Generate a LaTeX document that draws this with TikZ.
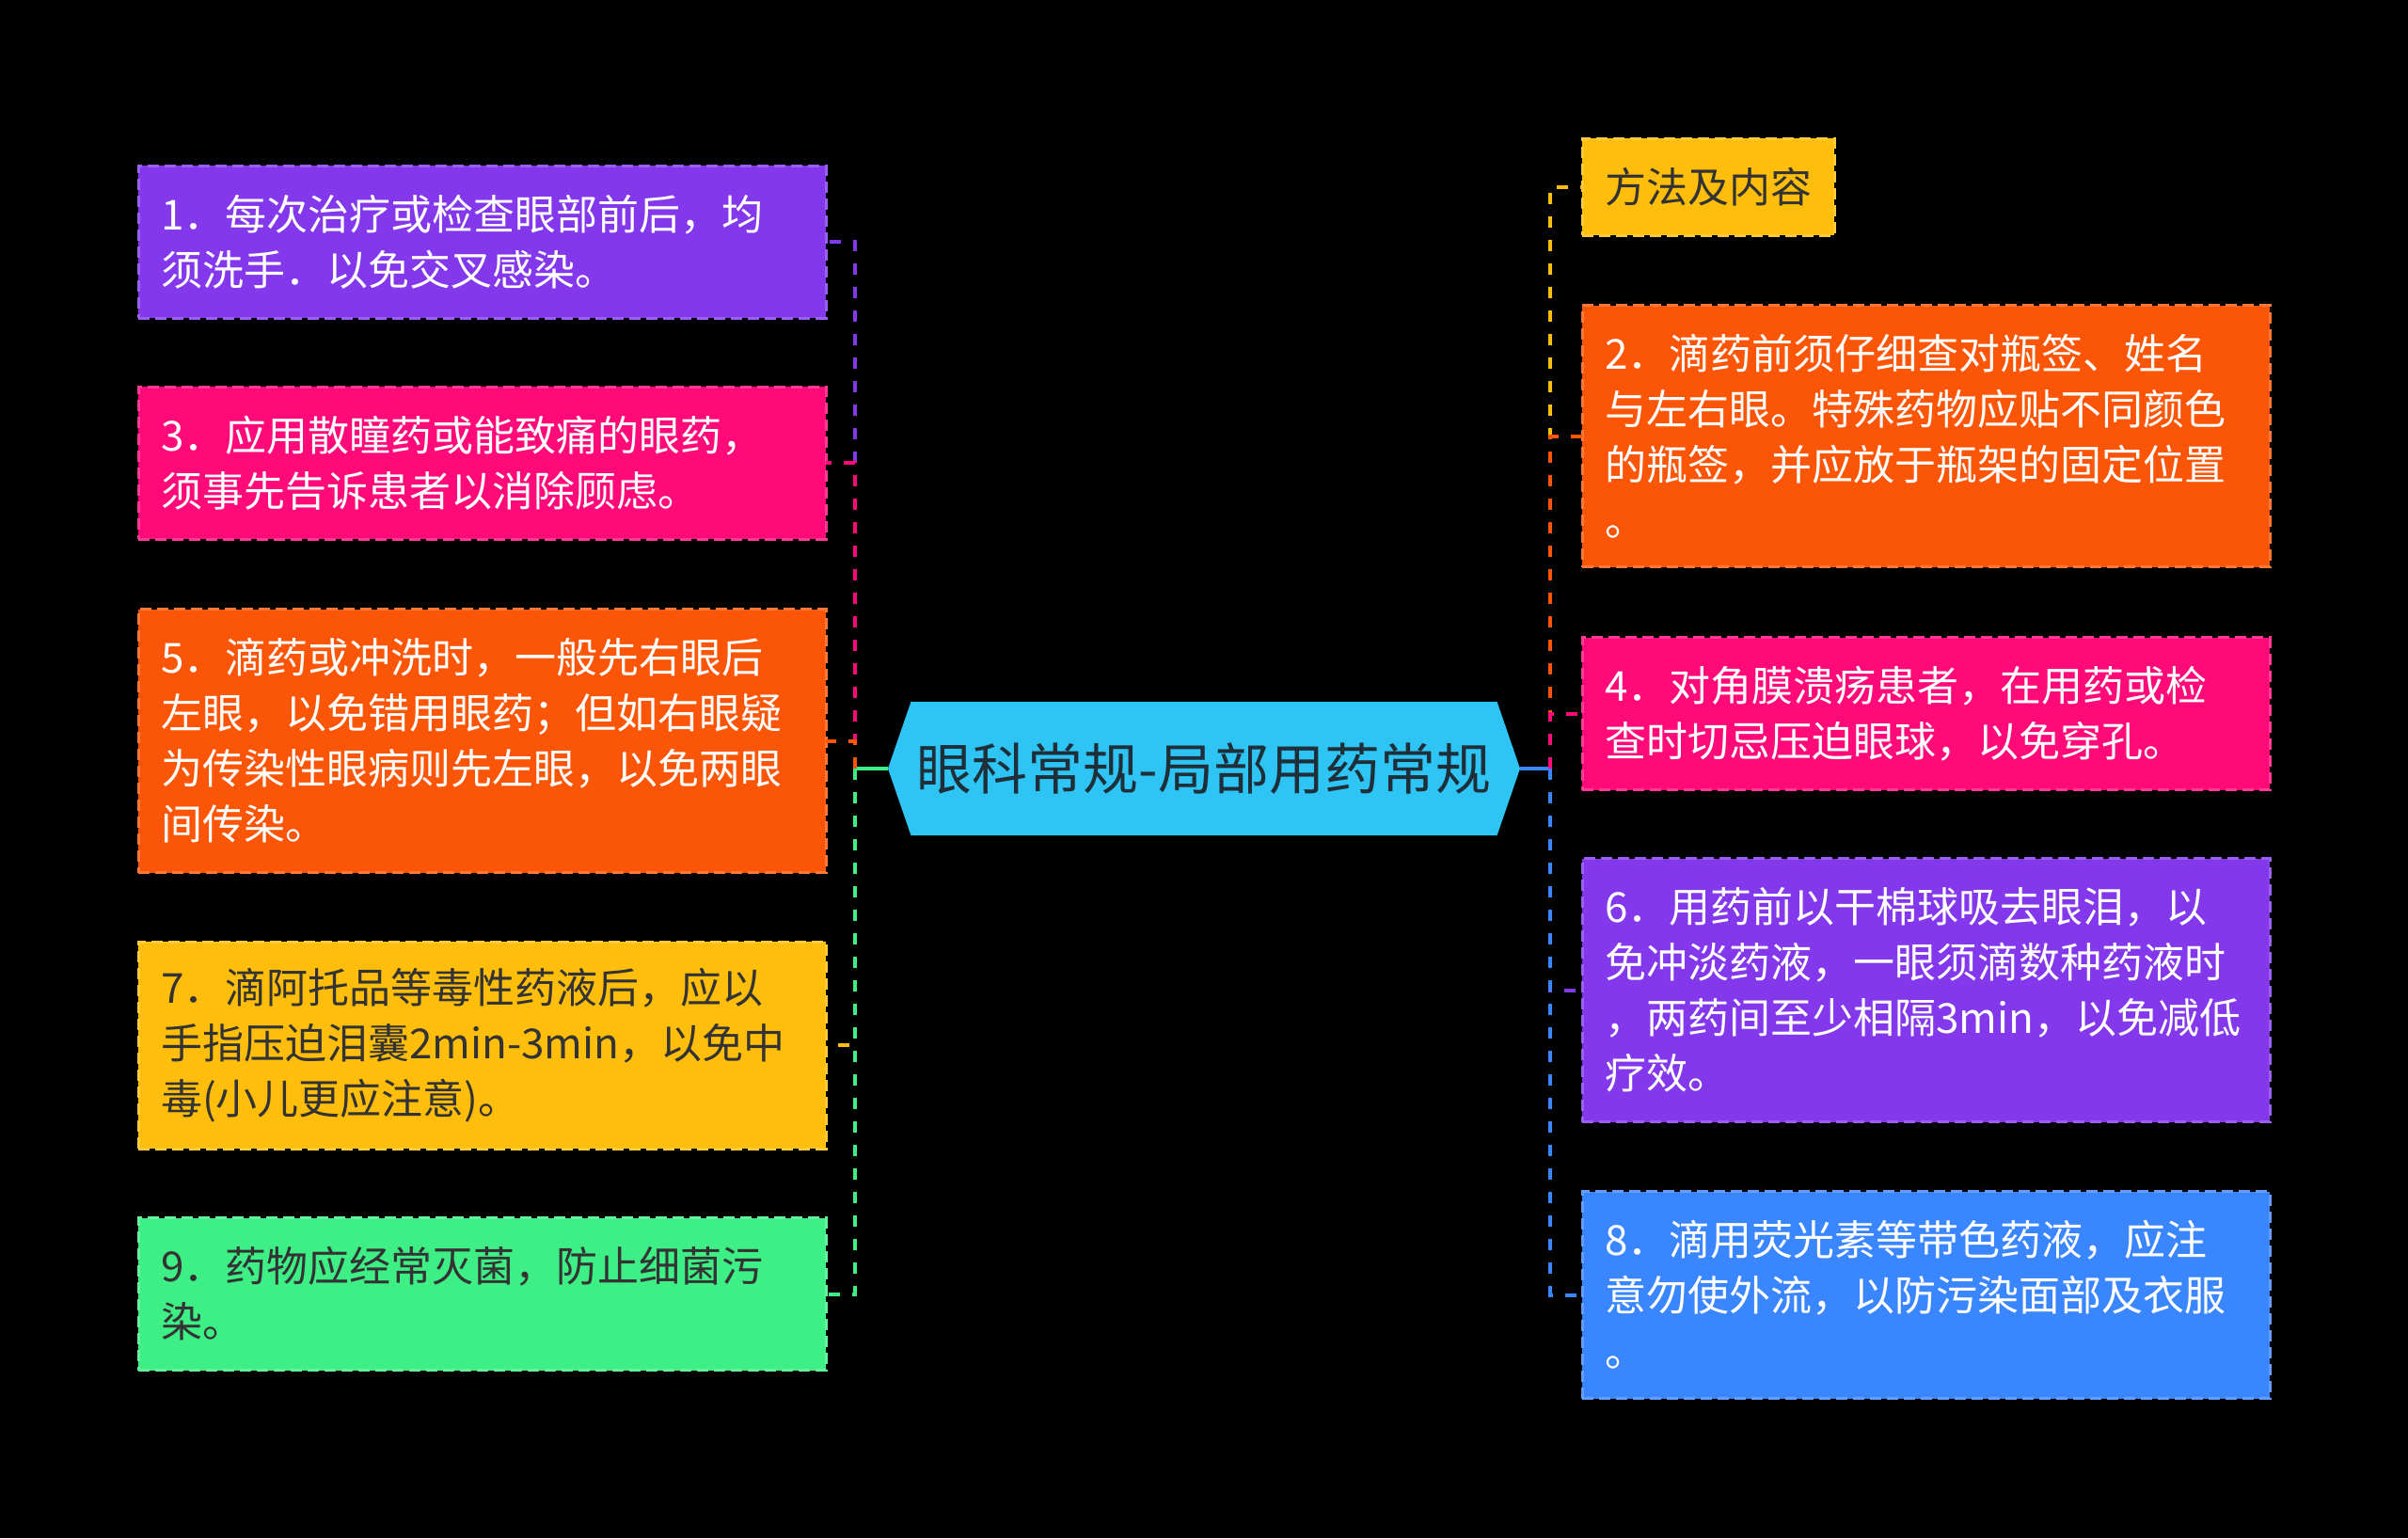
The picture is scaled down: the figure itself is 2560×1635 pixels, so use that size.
\documentclass[tikz,border=0pt]{standalone}
\usepackage{fontspec}
\newfontfamily\cjk{Noto Sans CJK SC}
\usetikzlibrary{shapes.symbols}
\definecolor{cpurple}{HTML}{8338EC}
\definecolor{cpink}{HTML}{FF0A78}
\definecolor{corange}{HTML}{FB5607}
\definecolor{cyellow}{HTML}{FFBE0B}
\definecolor{cgreen}{HTML}{3DEF85}
\definecolor{cblue}{HTML}{3A86FF}
\definecolor{ccyan}{HTML}{2EC4F3}
\definecolor{cdark}{HTML}{1F2F3A}
\definecolor{ctxt}{HTML}{333333}
\begin{document}
\begin{tikzpicture}[x=0.5pt,y=-0.5pt,
  box/.style={rectangle, line width=1.5pt, dash pattern=on 6pt off 3pt,
    inner xsep=12pt, inner ysep=0pt, outer sep=0pt, minimum height=#1,
    text width=341.5pt, align=left,
    font=\cjk\fontsize{22pt}{29.5pt}\selectfont, text=white},
  conn/.style={line width=2pt, dash pattern=on 6pt off 6.5pt},
  trunk/.style={line width=2pt}
]
\fill[black] (0,0) rectangle (2560,1635);

% centre
\node[signal, signal to=west and east, signal pointer angle=142,
  fill=ccyan, minimum width=336pt, minimum height=71pt, inner sep=0pt,
  font=\cjk\fontsize{29.5pt}{35pt}\selectfont, text=cdark] (c) at (1280,817) {眼科常规-局部用药常规};

\coordinate (lj) at (909,817);
\coordinate (rj) at (1648,817);

% left boxes
\node[box=81pt, fill=cpurple, draw=cpurple!80!white] (b1) at (512.5,257)
  {1．每次治疗或检查眼部前后，均\\须洗手．以免交叉感染。};
\node[box=81pt, fill=cpink, draw=cpink!80!white] (b3) at (512.5,492)
  {3．应用散瞳药或能致痛的眼药，\\须事先告诉患者以消除顾虑。};
\node[box=140pt, fill=corange, draw=corange!80!white] (b5) at (512.5,787.5)
  {5．滴药或冲洗时，一般先右眼后\\左眼，以免错用眼药；但如右眼疑\\为传染性眼病则先左眼，以免两眼\\间传染。};
\node[box=110pt, fill=cyellow, draw=cyellow!80!white, text=ctxt] (b7) at (512.5,1111)
  {7．滴阿托品等毒性药液后，应以\\手指压迫泪囊2min-3min，以免中\\毒(小儿更应注意)。};
\node[box=81pt, fill=cgreen, draw=cgreen!80!white, text=ctxt] (b9) at (512.5,1375.5)
  {9．药物应经常灭菌，防止细菌污\\染。};

% right boxes
\node[rectangle, line width=1.5pt, dash pattern=on 6pt off 3pt, inner xsep=12pt, inner ysep=0pt,
  outer sep=0pt, minimum height=51.5pt, minimum width=131.5pt, anchor=west,
  font=\cjk\fontsize{22pt}{29.5pt}\selectfont, text=ctxt,
  fill=cyellow, draw=cyellow!80!white] (f) at (1682,198.5) {方法及内容};
\node[box=139pt, fill=corange, draw=corange!80!white] (b2) at (2047.5,463.5)
  {2．滴药前须仔细查对瓶签、姓名\\与左右眼。特殊药物应贴不同颜色\\的瓶签，并应放于瓶架的固定位置\\。};
\node[box=81pt, fill=cpink, draw=cpink!80!white] (b4) at (2047.5,758.5)
  {4．对角膜溃疡患者，在用药或检\\查时切忌压迫眼球，以免穿孔。};
\node[box=140pt, fill=cpurple, draw=cpurple!80!white] (b6) at (2047.5,1052.5)
  {6．用药前以干棉球吸去眼泪，以\\免冲淡药液，一眼须滴数种药液时\\，两药间至少相隔3min，以免减低\\疗效。};
\node[box=110pt, fill=cblue, draw=cblue!80!white] (b8) at (2047.5,1376.5)
  {8．滴用荧光素等带色药液，应注\\意勿使外流，以防污染面部及衣服\\。};

% left connectors
\draw[trunk, cgreen] (c.west) -- (lj);
\draw[conn, cpurple] (lj) |- (b1.east);
\draw[conn, cpink] (lj) |- (b3.east);
\draw[conn, corange] (lj) |- (b5.east);
\draw[conn, cyellow] (lj) |- (b7.east);
\draw[conn, cgreen] (lj) |- (b9.east);

% right connectors
\draw[trunk, cblue] (c.east) -- (rj);
\draw[conn, cyellow] (rj) |- (f.west);
\draw[conn, corange] (rj) |- (b2.west);
\draw[conn, cpink] (rj) |- (b4.west);
\draw[conn, cpurple] (rj) |- (b6.west);
\draw[conn, cblue] (rj) |- (b8.west);
\end{tikzpicture}
\end{document}
